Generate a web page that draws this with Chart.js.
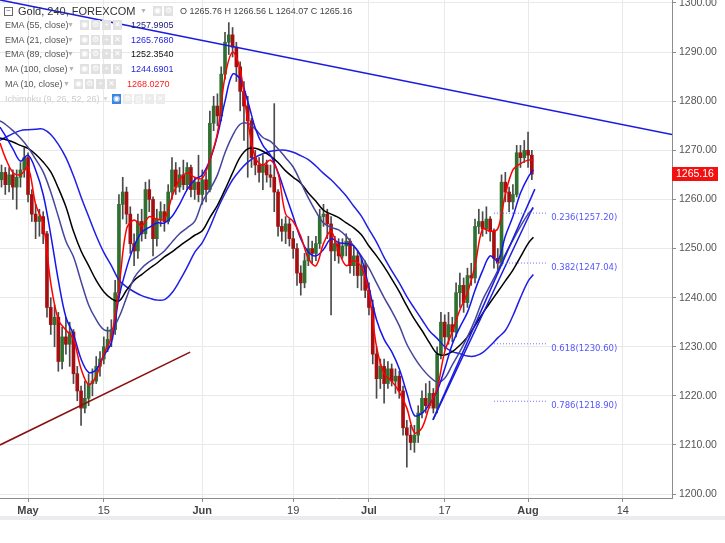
<!DOCTYPE html>
<html>
<head>
<meta charset="utf-8" />
<title>Gold, 240, FOREXCOM</title>
<script src="https://cdn.jsdelivr.net/npm/chart.js@4.4.1/dist/chart.umd.min.js"></script>
<style>
  html, body { margin: 0; padding: 0; background: #ffffff; }
  #wrap { position: relative; width: 725px; height: 543px; overflow: hidden; }
  #chart { position: absolute; left: 0; top: 0; }
  #legend { position: absolute; left: 0; top: 0; width: 400px; height: 110px;
            font-family: "Liberation Sans", Arial, sans-serif; color: #555; pointer-events: none; }
  #legend span { position: absolute; white-space: nowrap; }
  .title { font-size: 11px; color: #333; line-height: 14px; }
  .ohlc { font-size: 9px; color: #444; line-height: 12px; }
  .name { font-size: 9px; line-height: 12px; color: #555; }
  .caret { font-size: 7px; color: #b4b4b4; line-height: 12px; }
  .ico { width: 9px; height: 10px; background: #e1e1e1; color: #fff; font-size: 8px; line-height: 10px; text-align: center; }
  .val { font-size: 9px; line-height: 12px; }
  .box { width: 7px; height: 7px; border: 1px solid #666; font-size: 8px; line-height: 6px; text-align: center; color: #666; }
</style>
</head>
<body>
<div id="wrap">
  <canvas id="chart" width="725" height="543"></canvas>
  <div id="legend"></div>
</div>
<script>
// time axis in trading days counted from May 1 (weekends skipped, as on the chart)
const tickDays = [0, 10, 23, 35, 45, 55, 66, 78.5];
const tickLabels = ['May', '15', 'Jun', '19', 'Jul', '17', 'Aug', '14'];
const monthLabels = ['May', 'Jun', 'Jul', 'Aug'];

// 12h candles starting at day -3.5
const candleStart = -3.5;
const firstOpen = 1264;
const closes = [
  1265.5, 1263, 1265, 1262.5, 1264.5, 1266, 1268.5, 1261, 1257, 1255.5,
  1256.5, 1253, 1238, 1234.5, 1236, 1227, 1232, 1230.5, 1233, 1224.5,
  1221, 1217.5, 1219.5, 1222.5, 1223, 1226, 1227.5, 1230, 1231.5, 1233.5,
  1241, 1259, 1261.5, 1257, 1251, 1249.5, 1255.5, 1253, 1262, 1260,
  1252, 1256, 1257.5, 1255.5, 1261.5, 1266, 1262.5, 1265, 1263, 1266.5,
  1262, 1263.5, 1261, 1264, 1262, 1275.5, 1279, 1277, 1285.5, 1292,
  1293.5, 1291, 1287, 1282, 1279, 1276, 1268.5, 1267, 1265.5, 1267,
  1265, 1264.5, 1261.5, 1254.5, 1253.5, 1255, 1252, 1250, 1245, 1243,
  1247.5, 1250, 1249, 1251, 1256.5, 1257, 1255, 1249.5, 1251, 1248.5,
  1250.5, 1251.5, 1246.5, 1248.5, 1244.5, 1246.5, 1241.5, 1238, 1228.5, 1223.5,
  1226, 1222.5, 1225.5, 1223, 1224, 1221, 1213.5, 1212, 1210.5, 1212,
  1216.5, 1219.5, 1218, 1220.5, 1217.5, 1228.5, 1235, 1232, 1234.5, 1233,
  1241, 1242.5, 1239, 1244.5, 1244, 1254.5, 1255.5, 1254, 1256, 1253.5,
  1248, 1247, 1263.5, 1261.5, 1259.5, 1261, 1269.5, 1268.5, 1270, 1269,
  1265.16
];
const highs = [
  1267, 1266.5, 1266.5, 1266, 1266, 1267.5, 1270.5, 1269.5, 1262, 1259,
  1258, 1257.5, 1253.5, 1240, 1238.5, 1237, 1234, 1236, 1235, 1233.5,
  1226, 1222, 1223, 1224.5, 1225.5, 1228, 1229, 1232, 1234, 1235.5,
  1243.5, 1261, 1264.5, 1262.5, 1258.5, 1253, 1257, 1258, 1263.5, 1264,
  1260.5, 1258, 1259.5, 1259, 1263, 1268.5, 1267.5, 1266.5, 1268, 1267.5,
  1267, 1264.5, 1269, 1266, 1265.5, 1278, 1281, 1281.5, 1287, 1294,
  1296, 1295, 1292, 1288, 1284, 1281, 1276.5, 1270, 1268.5, 1269,
  1268, 1267, 1279.5, 1262, 1256, 1256.5, 1256, 1253.5, 1251, 1246.5,
  1249, 1252.5, 1251.5, 1252.5, 1258, 1259, 1258, 1256.5, 1252.5, 1252,
  1252, 1253, 1252, 1250.5, 1249.5, 1248, 1247.5, 1243, 1239.5, 1230,
  1227.5, 1227.5, 1227, 1226.5, 1225.5, 1225, 1222, 1215, 1214, 1214,
  1218, 1221, 1222.5, 1223, 1221.5, 1230, 1237, 1236.5, 1237, 1236,
  1243, 1245, 1244, 1246, 1247, 1256, 1258, 1257.5, 1258.5, 1256.5,
  1254, 1250, 1265, 1265.5, 1262.5, 1263, 1271, 1271, 1272, 1273.7,
  1270
];
const lows = [
  1262.5, 1261, 1261.5, 1260, 1258, 1262.5, 1264.5, 1259.5, 1255.5, 1252,
  1252.5, 1251, 1236, 1232.5, 1230, 1225, 1225.5, 1228.5, 1226, 1222.5,
  1219, 1214, 1216.5, 1218, 1220, 1222.5, 1224, 1226.5, 1229, 1230,
  1232.5, 1240, 1256, 1255, 1249, 1246.5, 1248, 1251.5, 1252, 1257.5,
  1248.5, 1250.5, 1254.5, 1253.5, 1255, 1260, 1261, 1261.5, 1262, 1262,
  1260.5, 1260, 1259.5, 1259, 1259.5, 1261.5, 1274, 1275, 1276, 1284.5,
  1289.5, 1289, 1284, 1278, 1272, 1264.5, 1266.5, 1265, 1263.5, 1262,
  1263.5, 1262.5, 1257.5, 1252.5, 1251.5, 1251, 1250.5, 1248, 1242.5, 1240.5,
  1242, 1246.5, 1247, 1247.5, 1250, 1254.5, 1252, 1236.5, 1247.5, 1247,
  1248, 1248.5, 1245, 1244.5, 1242, 1241.5, 1240, 1236.5, 1226.5, 1219.5,
  1221.5, 1218.5, 1221.5, 1222, 1220.5, 1219.5, 1212, 1205.5, 1209, 1208.5,
  1210.5, 1215.5, 1216.5, 1217.5, 1216.5, 1216.5, 1227.5, 1229.5, 1230.5, 1231,
  1232, 1238, 1237, 1238, 1242.5, 1243, 1253, 1252.5, 1253, 1251.5,
  1246, 1245, 1246.5, 1259.5, 1257.5, 1258, 1260.5, 1266.5, 1267.5, 1266.5,
  1264
];

// moving averages, one value per trading day
const maDays = [
  -3.7, -3, -2, -1, 0, 1, 2, 3, 4, 5, 6, 7, 8, 9, 10, 11, 12, 13, 14, 15,
  16, 17, 18, 19, 20, 21, 22, 23, 24, 25, 26, 27, 28, 29, 30, 31, 32, 33, 34, 35,
  36, 37, 38, 39, 40, 41, 42, 43, 44, 45, 46, 47, 48, 49, 50, 51, 52, 53, 54, 55,
  56, 57, 58, 59, 60, 61, 62, 63, 64, 65, 66, 66.7
];
const ma10 = [
  1271.5, 1268.5, 1265.5, 1265, 1266.5, 1259, 1255, 1243, 1235.5, 1233.4, 1231.5, 1225.5, 1222.3, 1224, 1228.5, 1232, 1242, 1254, 1255.8, 1254.6,
  1256.5, 1256, 1256, 1260.5, 1264, 1265.4, 1264.5, 1264.3, 1268, 1273.5, 1285, 1290, 1286.4, 1276, 1268.5, 1267, 1268, 1265.3, 1257, 1255.5,
  1252.5, 1248, 1246.5, 1251, 1253.5, 1249.5, 1246.5, 1247.5, 1246.2, 1241, 1230, 1224.5, 1223, 1220.8, 1217.5, 1212.5, 1213.5, 1218, 1221.5, 1229,
  1233, 1237.5, 1241, 1246.5, 1254, 1253.5, 1254, 1261, 1266, 1267.3, 1268, 1268
];
const ema21 = [
  1274.7, 1273, 1270.3, 1267.8, 1269, 1266, 1261, 1252.8, 1243.5, 1236, 1232.5, 1227.5, 1224.8, 1225.3, 1228.2, 1230.8, 1240, 1246, 1250.5, 1253.3,
  1254.3, 1255.2, 1255.2, 1256.5, 1259, 1262, 1264, 1265, 1268, 1273, 1280, 1285.5, 1284.5, 1280, 1274.5, 1271, 1269, 1265.5, 1261, 1256.5,
  1252, 1249.3, 1248.5, 1249.8, 1252, 1251.2, 1251, 1250.5, 1248, 1242, 1235.5, 1231.5, 1229, 1225.5, 1220.6, 1216, 1216.5, 1218.3, 1221, 1225.5,
  1230.5, 1234, 1237, 1241.5, 1245.5, 1248.5, 1247.5, 1252.5, 1256.5, 1261.3, 1264.5, 1266
];
const ema55 = [
  1276, 1275.3, 1274, 1272.5, 1270.6, 1268.2, 1265.6, 1261.5, 1256.5, 1251.5, 1248.3, 1243.3, 1238.5, 1235.5, 1233.5, 1233.4, 1236, 1240, 1244, 1246,
  1247.3, 1248.3, 1249.5, 1251.3, 1253, 1254.2, 1255.5, 1259.5, 1262, 1265, 1269.5, 1273, 1275.3, 1275.5, 1274.3, 1272.6, 1271.8, 1270.3, 1268.5, 1266.6,
  1263.5, 1260.3, 1257.5, 1255.2, 1254.3, 1253.8, 1252.5, 1250.5, 1248.5, 1246, 1243, 1240, 1237.3, 1234.3, 1230.5, 1227.8, 1225.6, 1223.9, 1222.8, 1223.6,
  1226.3, 1229, 1232, 1235.5, 1239.5, 1242.5, 1245.5, 1248.8, 1251.7, 1254.5, 1257, 1258.2
];
const ema89 = [
  1272.5, 1272.2, 1271.7, 1271, 1270.4, 1269.2, 1267.6, 1265.6, 1262.3, 1258.5, 1253.5, 1249.5, 1246.5, 1243.5, 1241.2, 1239.8, 1239.3, 1241.5, 1243.5, 1244.7,
  1245.9, 1247, 1248.3, 1249.3, 1250.5, 1251.6, 1252.7, 1253.6, 1256.3, 1258.8, 1262, 1265.4, 1268.6, 1270.3, 1270.4, 1269.8, 1268.8, 1267.5, 1265.8, 1264.5,
  1263.3, 1261.3, 1259.6, 1257.8, 1257, 1256.3, 1255.2, 1254.2, 1252.8, 1250.5, 1248.5, 1246.3, 1243.8, 1241.2, 1238.3, 1235.6, 1233.3, 1230.8, 1228.6, 1228.3,
  1229, 1230.3, 1232, 1234.3, 1236.8, 1239, 1241.2, 1243.4, 1245.6, 1248.3, 1251, 1252.3
];
const ma100 = [
  1272, 1272.6, 1273.4, 1274, 1274.2, 1274.3, 1274.3, 1273.2, 1271.2, 1268.5, 1264.8, 1260.5, 1256.5, 1252.6, 1249.2, 1246.5, 1243.6, 1242.2, 1241.2, 1240.4,
  1239.9, 1239.5, 1239.6, 1241, 1243.4, 1246.2, 1249.2, 1251.2, 1254.3, 1258, 1261.2, 1264, 1266, 1267.6, 1268.6, 1269.3, 1269.8, 1270, 1270, 1269.6,
  1268.9, 1268.1, 1266.8, 1265.3, 1264, 1262.4, 1260.7, 1258.6, 1256.6, 1253.9, 1251.3, 1248.2, 1245.5, 1243, 1240.2, 1237.8, 1235.5, 1233.2, 1231.7, 1230,
  1229, 1228.6, 1228.1, 1228.1, 1228.8, 1230.2, 1231.8, 1233.3, 1236.3, 1240, 1243.3, 1244.7
];

// hand-drawn trend lines: [day, price] end points
const resistanceLine = [[-3.7, 1300.6], [85, 1273.2]];
const supportLine = [[-3.7, 1210.0], [21.4, 1228.9]];
const julyLineUpper = [[53.45, 1215.1], [66.9, 1262.1]];
const julyLineLower = [[53.45, 1215.1], [66.65, 1258.4]];

// fibonacci retracement levels
const fibRatios = [0.236, 0.382, 0.618, 0.786];
const fibPrices = [1257.20, 1247.04, 1230.60, 1218.90];
const fibFrom = 61.5, fibTo = 68.6, fibLabelDay = 69.05;

// legend text
const studyNames = ['EMA (55, close)', 'EMA (21, close)', 'EMA (89, close)', 'MA (100, close)', 'MA (10, close)'];
const studyValues = ['1257.9905', '1265.7680', '1252.3540', '1244.6901', '1268.0270'];
const studyValueColors = ['#22227a', '#2424f0', '#111111', '#2a2ad8', '#ff1a1a'];

const UP = '#2f7031', DOWN = '#a50f0f', WICK = '#4a4a4a';

const candleDays = closes.map((c, i) => candleStart + i * 0.5);
const opens = closes.map((c, i) => i === 0 ? firstOpen : closes[i - 1]);
const lastClose = closes[closes.length - 1];

const toPts = (days, vals) => days.map((d, i) => ({ x: d, y: vals[i] }));
const segPts = seg => seg.map(p => ({ x: p[0], y: p[1] }));

function maSet(label, vals, color, order) {
  return { type: 'line', label, data: toPts(maDays, vals), borderColor: color, borderWidth: 1.5,
           pointRadius: 0, tension: 0.35, fill: false, order };
}
function straight(label, seg, color, width, dash, order) {
  return { type: 'line', label, data: segPts(seg), borderColor: color, borderWidth: width,
           borderDash: dash || [], pointRadius: 0, tension: 0, fill: false, order };
}

const datasets = [
  { type: 'bar', label: 'wick', data: candleDays.map((d, i) => ({ x: d, y: [lows[i], highs[i]] })),
    backgroundColor: WICK, barThickness: 1, grouped: false, order: 20 },
  { type: 'bar', label: 'body', data: candleDays.map((d, i) => ({ x: d, y: [opens[i], closes[i]] })),
    backgroundColor: c => closes[c.dataIndex] >= opens[c.dataIndex] ? UP : DOWN,
    barThickness: 3, grouped: false, order: 19 },
  maSet('MA 100', ma100, '#1f1fe6', 15),
  maSet('EMA 89', ema89, '#000000', 14),
  maSet('EMA 55', ema55, '#45459c', 13),
  maSet('EMA 21', ema21, '#1515ee', 12),
  maSet('MA 10', ma10, '#ff0000', 11),
  straight('resistance', resistanceLine, '#1c1ce0', 1.6, null, 5),
  straight('support', supportLine, '#8b1111', 1.6, null, 5),
  straight('july upper', julyLineUpper, '#1c1ce0', 1.5, null, 5),
  straight('july lower', julyLineLower, '#1c1ce0', 1.5, null, 5)
];
fibPrices.forEach((p, i) => datasets.push(
  straight('fib ' + fibRatios[i], [[fibFrom, p], [fibTo, p]], '#6c6cff', 1, [1, 2], 4)));

const overlay = {
  id: 'overlay',
  beforeDraw(chart) {
    const { ctx } = chart;
    ctx.save();
    ctx.fillStyle = '#ffffff';
    ctx.fillRect(0, 0, chart.width, chart.height);
    ctx.restore();
  },
  afterDraw(chart) {
    const { ctx, chartArea } = chart;
    const x = chart.scales.x, y = chart.scales.y;
    ctx.save();
    ctx.font = '8.5px "DejaVu Sans", sans-serif';
    ctx.fillStyle = '#5656ff';
    ctx.textBaseline = 'top';
    fibRatios.forEach((r, i) => {
      ctx.fillText(r.toFixed(3) + '(' + fibPrices[i].toFixed(2) + ')',
        x.getPixelForValue(fibLabelDay), y.getPixelForValue(fibPrices[i]) + 0.5);
    });
    const py = Math.round(y.getPixelForValue(lastClose));
    ctx.fillStyle = '#f21010';
    ctx.fillRect(chartArea.right, py - 7, 46, 14);
    ctx.fillStyle = '#ffffff';
    ctx.font = '10.5px "Liberation Sans", Arial, sans-serif';
    ctx.textBaseline = 'middle';
    ctx.fillText(lastClose.toFixed(2), chartArea.right + 4, py + 0.5);
    ctx.fillStyle = '#eaecef';
    ctx.fillRect(0, 516, chart.width, 4);
    ctx.restore();
  }
};

new Chart(document.getElementById('chart'), {
  type: 'bar',
  data: { datasets },
  options: {
    responsive: false,
    animation: false,
    devicePixelRatio: 1,
    layout: { padding: 0 },
    plugins: { legend: { display: false }, tooltip: { enabled: false } },
    scales: {
      x: {
        type: 'linear', min: -3.7, max: 85, offset: false,
        afterBuildTicks: s => { s.ticks = tickDays.map(v => ({ value: v })); },
        afterFit: s => { s.height = 45; s.paddingLeft = 0; s.paddingRight = 0; },
        grid: { color: '#e9e9e9', offset: false, tickLength: 4, tickColor: '#8c8c8c' },
        border: { color: '#8c8c8c' },
        ticks: {
          autoSkip: false, maxRotation: 0, padding: 2, color: '#444',
          font: c => ({ family: '"Liberation Sans", Arial, sans-serif', size: 11,
                        weight: monthLabels.includes(tickLabels[c.index]) ? 'bold' : 'normal' }),
          callback: (v, i) => tickLabels[i]
        }
      },
      y: {
        position: 'right', min: 1199.2, max: 1300.6,
        afterFit: s => { s.width = 53; s.paddingTop = 0; s.paddingBottom = 0; },
        grid: { color: '#e9e9e9', tickLength: 4, tickColor: '#8c8c8c' },
        border: { color: '#8c8c8c' },
        ticks: {
          stepSize: 10, includeBounds: false, padding: 3, color: '#555',
          font: { family: '"Liberation Sans", Arial, sans-serif', size: 10.5 },
          callback: v => v.toFixed(2)
        }
      }
    }
  },
  plugins: [overlay]
});

// legend overlay (top left)
const lg = document.getElementById('legend');
function put(cls, text, left, top, style) {
  const s = document.createElement('span');
  s.className = cls;
  s.textContent = text;
  s.style.left = left + 'px';
  s.style.top = top + 'px';
  if (style) Object.assign(s.style, style);
  lg.appendChild(s);
  return s;
}
put('box', '\u2212', 4, 7);
put('title', 'Gold, 240, FOREXCOM', 18, 4);
put('caret', '\u25BC', 140, 5);
put('ico', '\u25C9', 153, 6);
put('ico', '\u2699', 164, 6);
put('ohlc', 'O 1265.76 H 1266.56 L 1264.07 C 1265.16', 180, 5);

const rowY = [25, 40, 54, 69, 84];
const caretX = [67, 67, 67, 68, 63];
const iconX = [80, 80, 80, 80, 74];
const valueX = [131, 131, 131, 131, 127];
const iconGlyphs = ['\u25C9', '\u2699', '+', '\u2715'];
studyNames.forEach((n, i) => {
  const t = rowY[i] - 6;
  put('name', n, 5, t);
  put('caret', '\u25BC', caretX[i], t);
  iconGlyphs.forEach((g, k) => put('ico', g, iconX[i] + k * 11, t + 1));
  put('val', studyValues[i], valueX[i], t, { color: studyValueColors[i] });
});
put('name', 'Ichimoku (9, 26, 52, 26)', 5, 93, { color: '#cdcdcd' });
put('caret', '\u25BC', 102, 93, { color: '#d8d8d8' });
put('ico', '\u25C9', 112, 94, { background: '#3b84e4' });
['\u2699', '{}', '+', '\u2715'].forEach((g, k) => put('ico', g, 123 + k * 11, 94, { background: '#ececec' }));
</script>
</body>
</html>
